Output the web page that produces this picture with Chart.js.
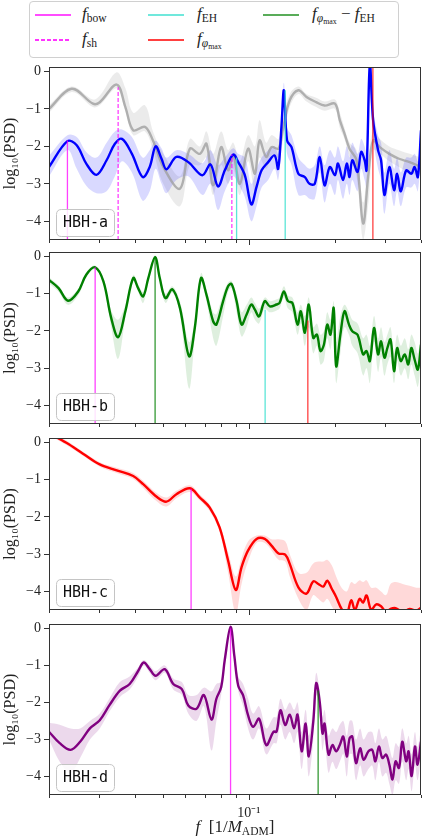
<!DOCTYPE html>
<html><head><meta charset="utf-8">
<script src="https://cdn.jsdelivr.net/npm/chart.js@4/dist/chart.umd.min.js"></script>
<style>
body{margin:0;background:#fff;}
#wrap{position:relative;width:422px;height:840px;overflow:hidden;background:#fff;font-family:"Liberation Serif",serif;color:#222;}
canvas{position:absolute;left:0;}
.leg{position:absolute;left:29px;top:1px;width:368px;height:55px;border:1px solid #d0d0d0;border-radius:4px;}
.ll{position:absolute;height:2px;width:36px;}
.lt{position:absolute;font-size:17px;line-height:20px;white-space:nowrap;}
.lt sub,.xt sub{font-size:0.68em;vertical-align:-0.3em;line-height:0;}
.xt{position:absolute;left:49px;width:372px;top:817px;text-align:center;font-size:17px;line-height:20px;white-space:nowrap;}
</style></head>
<body><div id="wrap">
<div class="leg"></div>
<div class="ll" style="left:35px;top:14px;background:rgba(255,0,255,0.7)"></div>
<div class="lt" style="left:82px;top:4px"><i>f</i><sub>bow</sub></div>
<div class="ll" style="left:35px;top:39px;background:repeating-linear-gradient(to right, rgba(255,0,255,0.8) 0px, rgba(255,0,255,0.8) 4px, rgba(255,255,255,0) 4px, rgba(255,255,255,0) 6px)"></div>
<div class="lt" style="left:82px;top:29px"><i>f</i><sub>sh</sub></div>
<div class="ll" style="left:148px;top:14px;background:rgba(64,224,208,0.75)"></div>
<div class="lt" style="left:197px;top:4px"><i>f</i><sub>EH</sub></div>
<div class="ll" style="left:148px;top:39px;background:rgba(255,0,0,0.75)"></div>
<div class="lt" style="left:197px;top:29px"><i>f</i><sub><i>φ</i><sub>max</sub></sub></div>
<div class="ll" style="left:263px;top:14px;background:rgba(0,128,0,0.65)"></div>
<div class="lt" style="left:312px;top:4px"><i>f</i><sub><i>φ</i><sub>max</sub></sub> − <i>f</i><sub>EH</sub></div>
<canvas id="c0" width="422" height="184" style="top:62px"></canvas>
<canvas id="c1" width="422" height="183" style="top:247px"></canvas>
<canvas id="c2" width="422" height="183" style="top:433px"></canvas>
<canvas id="c3" width="422" height="221" style="top:619px"></canvas>
<div class="xt"><i>f</i> &nbsp;[1/<i>M</i><sub>ADM</sub>]</div>
</div>
<script>
// ---------- axes ----------
const Y_MIN = -4.5, Y_MAX = 0.12;
const X_MIN = 0.02, X_MAX = 0.4;
const yTicks = [0, -1, -2, -3, -4];
const xTicks = [0.02,0.03,0.04,0.05,0.06,0.07,0.08,0.09,0.1,0.2,0.3,0.4];
const xMajorTick = 0.1;
const xMajorLabel = '10⁻¹';
const panelLabels = ['HBH-a','HBH-b','HBH-c','HBH-d'];

// ---------- HBH-a : blue ----------
const fA = [0.020,0.0232,0.025,0.027,0.0293,0.0318,0.034,0.036,0.039,0.0425,0.045,0.0472,0.0495,0.0515,0.0558,0.0614,0.0688,0.0734,0.078,0.0824,0.0882,0.0918,0.0968,0.102,0.1064,0.1108,0.1168,0.123,0.1266,0.130,0.1326,0.136,0.141,0.149,0.157,0.163,0.17,0.177,0.184,0.192,0.2,0.205,0.2135,0.22,0.225,0.23,0.24,0.247,0.254,0.258,0.265,0.272,0.283,0.29,0.298,0.31,0.322,0.33,0.34,0.355,0.37,0.38,0.39,0.4];
const blueA = [-2.55,-1.86,-1.97,-2.46,-2.76,-2.37,-1.93,-1.8,-2.2,-2.82,-2.55,-2.0,-2.33,-2.61,-2.28,-2.42,-2.77,-2.48,-3.07,-2.64,-2.22,-2.42,-2.77,-3.55,-3.08,-2.64,-2.42,-2.24,-2.6,-1.48,-0.5,-1.84,-2.02,-2.73,-2.82,-3.0,-3.0,-2.28,-3.04,-2.55,-2.77,-2.46,-2.9,-2.46,-2.82,-2.37,-2.68,-2.15,-2.37,-2.64,0.2,-1.3,-2.1,-2.37,-3.3,-2.55,-3.17,-2.73,-3.2,-2.64,-2.73,-2.55,-2.82,-1.57];
const blueHiA = [-2.25,-1.7,-1.75,-2.15,-2.3,-1.9,-1.6,-1.55,-1.75,-2.3,-2.1,-1.85,-2.05,-2.3,-2.1,-2.2,-2.45,-2.1,-2.5,-2.3,-2.05,-2.2,-2.3,-3.0,-2.6,-2.3,-2.1,-2.0,-2.2,-1.3,-0.3,-1.5,-1.7,-2.3,-2.5,-2.6,-2.5,-2.0,-2.5,-2.1,-2.3,-2.0,-2.4,-2.0,-2.3,-1.9,-2.2,-1.8,-2.0,-2.2,0.3,-1.0,-1.7,-1.9,-2.7,-2.1,-2.6,-2.3,-2.7,-2.3,-2.3,-2.2,-2.4,-1.4];
const blueLoA = [-2.8,-2.1,-2.6,-3.05,-3.25,-3.2,-2.8,-2.4,-2.7,-3.45,-3.2,-2.6,-3.0,-3.25,-2.9,-2.8,-3.3,-3.0,-3.7,-3.2,-2.8,-3.0,-3.35,-4.0,-3.6,-3.1,-2.9,-2.6,-2.9,-1.9,-0.9,-2.2,-2.5,-3.3,-3.3,-3.4,-3.4,-2.7,-3.5,-3.0,-3.3,-2.9,-3.4,-3.0,-3.3,-2.9,-3.2,-2.6,-2.9,-3.1,-0.5,-1.8,-2.6,-2.9,-3.8,-3.0,-3.6,-3.2,-3.6,-3.1,-3.1,-3.0,-3.2,-2.0];

// ---------- HBH-a : gray ----------
const fG = [0.020,0.024,0.0285,0.0301,0.0345,0.037,0.0394,0.0433,0.0462,0.0502,0.0574,0.0622,0.0674,0.0711,0.075,0.080,0.0846,0.0882,0.093,0.0994,0.105,0.109,0.115,0.12,0.127,0.132,0.139,0.149,0.159,0.172,0.184,0.2,0.208,0.216,0.225,0.238,0.251,0.262,0.272,0.287,0.31,0.335,0.365,0.4];
const grayA = [-1.0,-0.46,-0.86,-0.82,-0.35,-0.95,-1.57,-1.48,-1.84,-2.55,-3.13,-2.06,-2.2,-1.93,-3.04,-2.02,-2.64,-2.24,-3.0,-2.06,-2.73,-1.84,-2.28,-2.02,-2.06,-1.48,-0.77,-0.5,-0.68,-0.82,-0.91,-0.86,-1.3,-1.66,-2.06,-2.37,-4.06,-2.73,-1.84,-2.02,-2.2,-2.33,-2.42,-2.55];
const grayHiA = [-0.9,-0.4,-0.75,-0.65,-0.02,-0.45,-1.1,-0.9,-1.6,-2.2,-2.8,-1.8,-2.0,-1.6,-2.2,-1.6,-2.1,-1.9,-2.4,-1.7,-2.0,-1.3,-1.9,-1.7,-1.8,-1.2,-0.6,-0.4,-0.6,-0.7,-0.8,-0.75,-1.1,-1.5,-1.9,-2.1,-3.5,-2.3,-1.6,-1.8,-2.0,-2.1,-2.2,-2.3];
const grayLoA = [-1.1,-0.55,-0.95,-0.9,-0.45,-1.05,-1.7,-1.6,-2.1,-3.0,-3.6,-2.5,-2.5,-2.3,-3.3,-2.5,-3.0,-2.6,-3.3,-2.4,-3.2,-2.3,-2.6,-2.3,-2.3,-1.8,-0.95,-0.6,-0.8,-0.95,-1.05,-1.0,-1.5,-1.8,-2.3,-2.8,-4.5,-3.5,-2.1,-2.2,-2.4,-2.55,-2.7,-2.8];

// ---------- HBH-b : green ----------
const fB = [0.020,0.0216,0.0233,0.0253,0.027,0.029,0.031,0.033,0.0349,0.037,0.0394,0.041,0.0427,0.0445,0.047,0.0488,0.0511,0.054,0.0574,0.0618,0.0647,0.068,0.0711,0.075,0.077,0.0813,0.0846,0.087,0.0906,0.0943,0.0982,0.102,0.105,0.1086,0.1137,0.1184,0.125,0.128,0.1326,0.137,0.142,0.148,0.152,0.157,0.162,0.168,0.173,0.178,0.183,0.188,0.193,0.198,0.202,0.209,0.216,0.224,0.23,0.24,0.251,0.258,0.265,0.274,0.283,0.29,0.298,0.305,0.313,0.322,0.33,0.34,0.351,0.361,0.37,0.38,0.39,0.4];
const greenB = [-0.63,-0.85,-1.19,-0.94,-0.49,-0.29,-0.67,-1.65,-2.17,-1.47,-0.58,-0.85,-1.07,-0.58,-0.02,-0.58,-1.12,-0.88,-1.38,-2.68,-1.92,-0.58,-1.03,-1.74,-1.83,-1.2,-0.8,-0.74,-1.2,-1.83,-1.56,-1.29,-1.43,-1.61,-1.2,-1.34,-1.29,-1.25,-0.94,-1.2,-1.25,-1.83,-1.47,-2.05,-1.29,-2.19,-2.1,-2.54,-2.37,-1.83,-2.1,-1.38,-2.95,-2.1,-1.47,-1.83,-2.01,-2.1,-2.63,-2.54,-2.81,-1.92,-2.63,-2.28,-2.72,-2.46,-2.23,-3.08,-2.46,-2.81,-2.63,-2.9,-2.46,-2.77,-3.04,-2.37];
const greenHiB = [-0.55,-0.78,-1.1,-0.87,-0.43,-0.24,-0.6,-1.45,-1.7,-1.3,-0.5,-0.75,-0.95,-0.5,0.03,-0.5,-1.0,-0.8,-1.2,-2.3,-1.7,-0.45,-0.9,-1.5,-1.55,-1.0,-0.7,-0.65,-1.0,-1.5,-1.3,-1.1,-1.25,-1.4,-1.1,-1.2,-1.15,-1.1,-0.8,-1.05,-1.1,-1.5,-1.3,-1.6,-1.1,-1.9,-1.8,-2.1,-2.0,-1.5,-1.7,-1.2,-2.3,-1.6,-1.3,-1.5,-1.7,-1.8,-2.2,-2.1,-2.4,-1.6,-2.2,-1.9,-2.3,-2.1,-1.9,-2.6,-2.1,-2.4,-2.2,-2.5,-2.1,-2.3,-2.6,-2.0];
const greenLoB = [-0.72,-0.95,-1.3,-1.05,-0.56,-0.34,-0.75,-1.9,-2.75,-1.65,-0.66,-0.95,-1.25,-0.66,-0.08,-0.66,-1.25,-0.97,-1.55,-3.55,-2.2,-0.7,-1.2,-2.2,-2.4,-1.6,-0.95,-0.85,-1.5,-2.15,-1.9,-1.5,-1.7,-1.8,-1.4,-1.5,-1.45,-1.4,-1.1,-1.4,-1.5,-2.1,-1.8,-2.4,-1.9,-2.6,-2.4,-2.9,-2.8,-2.2,-2.5,-1.8,-3.4,-2.6,-1.9,-2.1,-2.4,-2.6,-3.2,-3.0,-3.4,-2.3,-3.1,-2.7,-3.2,-2.9,-2.7,-3.4,-2.8,-3.2,-3.0,-3.3,-2.9,-3.2,-3.5,-2.8];

// ---------- HBH-c : red ----------
const fC = [0.020,0.023,0.0263,0.0301,0.0345,0.0394,0.0427,0.0476,0.0515,0.0558,0.0622,0.0674,0.073,0.079,0.0846,0.09,0.0943,0.0994,0.1064,0.1137,0.12,0.127,0.134,0.139,0.149,0.159,0.168,0.175,0.182,0.188,0.195,0.202,0.211,0.22,0.228,0.235,0.244,0.251,0.258,0.268,0.279,0.29,0.302,0.313,0.326,0.345,0.365,0.385,0.4];
const redC = [0.25,-0.01,-0.3,-0.59,-0.75,-0.9,-1.12,-1.46,-1.59,-1.39,-1.23,-1.48,-1.75,-2.28,-3.17,-3.96,-3.35,-2.9,-2.59,-2.59,-2.77,-2.98,-3.01,-3.26,-3.89,-4.06,-3.73,-3.8,-3.87,-3.71,-3.93,-4.15,-4.47,-4.6,-4.24,-4.5,-4.2,-4.3,-4.11,-4.5,-4.35,-4.4,-4.55,-4.47,-4.45,-4.55,-4.47,-4.52,-4.44];
const redHiC = [0.3,0.05,-0.25,-0.53,-0.68,-0.82,-1.03,-1.36,-1.48,-1.3,-1.15,-1.4,-1.67,-2.18,-2.95,-3.6,-3.1,-2.65,-2.5,-2.5,-2.6,-2.6,-2.65,-3.0,-3.5,-3.5,-3.25,-3.2,-3.2,-3.15,-3.3,-3.6,-3.9,-4.0,-3.75,-3.8,-3.7,-3.75,-3.7,-3.9,-3.9,-4.0,-4.1,-3.8,-3.75,-3.8,-3.85,-3.9,-3.9];
const redLoC = [0.2,-0.07,-0.36,-0.65,-0.82,-0.98,-1.22,-1.58,-1.72,-1.5,-1.33,-1.56,-1.85,-2.4,-3.5,-4.6,-3.8,-3.2,-2.7,-2.7,-2.9,-3.15,-3.2,-3.6,-4.2,-4.5,-4.1,-4.2,-4.3,-4.2,-4.4,-4.6,-4.8,-4.8,-4.7,-4.8,-4.7,-4.7,-4.6,-4.8,-4.8,-4.8,-4.8,-4.8,-4.8,-4.8,-4.8,-4.8,-4.8];

// ---------- HBH-d : purple ----------
const fD = [0.020,0.0218,0.0238,0.0257,0.0278,0.0301,0.0325,0.0354,0.0383,0.041,0.0429,0.045,0.0472,0.0508,0.0544,0.0583,0.0614,0.0656,0.0696,0.074,0.077,0.080,0.0824,0.0863,0.089,0.0918,0.0955,0.0994,0.1035,0.1086,0.115,0.122,0.125,0.129,0.134,0.139,0.144,0.148,0.153,0.158,0.162,0.168,0.172,0.177,0.181,0.184,0.19,0.196,0.202,0.208,0.214,0.22,0.225,0.23,0.237,0.245,0.252,0.262,0.27,0.277,0.285,0.293,0.302,0.31,0.318,0.326,0.335,0.344,0.355,0.362,0.371,0.381,0.389,0.4];
const purpleD = [-2.79,-3.1,-3.28,-3.06,-2.7,-2.48,-2.08,-1.68,-1.5,-1.15,-0.92,-1.1,-1.28,-1.1,-1.5,-1.64,-2.08,-2.17,-1.8,-2.46,-1.9,-1.59,-0.84,0.04,-0.75,-1.55,-1.81,-2.35,-2.66,-2.44,-3.15,-2.79,-2.79,-2.21,-2.61,-2.33,-2.7,-2.33,-3.32,-2.57,-3.46,-2.52,-1.48,-1.99,-2.84,-2.57,-3.41,-3.15,-3.32,-3.15,-2.92,-3.46,-2.97,-2.92,-3.64,-3.24,-3.55,-3.32,-3.28,-3.59,-3.19,-3.5,-3.41,-3.68,-4.08,-3.59,-3.77,-3.06,-3.59,-3.32,-3.99,-3.19,-3.68,-3.06];
const purpleHiD = [-2.55,-2.6,-2.7,-2.7,-2.5,-2.3,-1.9,-1.45,-1.3,-1.05,-0.85,-1.0,-1.15,-1.0,-1.35,-1.45,-1.8,-1.8,-1.6,-1.7,-1.5,-1.45,-0.7,0.1,-0.6,-1.3,-1.5,-1.9,-2.3,-2.1,-2.7,-2.4,-2.4,-1.9,-2.2,-2.0,-2.2,-2.0,-2.8,-2.2,-2.9,-2.1,-1.2,-1.7,-2.4,-2.2,-2.9,-2.7,-2.8,-2.6,-2.5,-2.9,-2.5,-2.5,-3.0,-2.7,-3.0,-2.8,-2.8,-3.1,-2.7,-3.0,-2.9,-3.2,-3.5,-3.1,-3.2,-2.7,-3.1,-2.9,-3.4,-2.8,-3.2,-2.7];
const purpleLoD = [-3.0,-3.6,-3.9,-3.5,-3.0,-2.7,-2.25,-1.85,-1.65,-1.3,-1.0,-1.2,-1.4,-1.2,-1.65,-1.8,-2.3,-2.5,-2.1,-3.3,-2.5,-1.8,-1.0,-0.02,-0.9,-1.7,-2.1,-2.7,-3.0,-2.7,-3.4,-3.1,-3.1,-2.6,-3.0,-2.8,-3.1,-2.8,-3.8,-3.0,-4.0,-3.0,-1.8,-2.4,-3.3,-3.0,-3.9,-3.6,-3.8,-3.6,-3.4,-4.0,-3.4,-3.4,-4.1,-3.7,-4.0,-3.8,-3.7,-4.1,-3.6,-4.0,-3.9,-4.2,-4.5,-4.1,-4.2,-3.6,-4.1,-3.8,-4.4,-3.7,-4.1,-3.5];

// ---------- characteristic frequencies (vertical markers) ----------
const markFA = [0.0232,0.0349,0.0872,0.0906,0.134,0.2715];
const markTopA = [-1.84,-0.42,-2.22,-2.3,-0.5,0.12];
const markKindA = ['bow','sh','sh','eh','eh','phi'];
const markFB = [0.029,0.047,0.114,0.1608];
const markTopB = [-0.29,0.0,-1.43,-1.72];
const markKindB = ['bow','diff','eh','phi'];
const markFC = [0.0628];
const markTopC = [-1.24];
const markKindC = ['bow'];
const markFD = [0.0863,0.1747];
const markTopD = [0.0,-1.68];
const markKindD = ['bow','diff'];

// ---------- styling ----------
const FONT = '"Liberation Serif", serif';
const MARK_STYLE = {
  bow:{c:'rgba(255,0,255,0.75)', d:[]},
  sh:{c:'rgba(255,0,255,0.75)', d:[4,2]},
  eh:{c:'rgba(64,224,208,0.85)', d:[]},
  phi:{c:'rgba(255,0,0,0.75)', d:[]},
  diff:{c:'rgba(0,128,0,0.8)', d:[]}
};

const panels = [
  {canvas:'c0', xh:6, xLabels:false, label:panelLabels[0],
   series:[{f:fA,y:blueA,hi:blueHiA,lo:blueLoA,color:'#0000ff',band:'rgba(0,0,255,0.15)'},
           {f:fG,y:grayA,hi:grayHiA,lo:grayLoA,color:'rgba(160,160,160,0.8)',band:'rgba(128,128,128,0.16)'}],
   marks:{f:markFA,top:markTopA,kind:markKindA}},
  {canvas:'c1', xh:6, xLabels:false, label:panelLabels[1],
   series:[{f:fB,y:greenB,hi:greenHiB,lo:greenLoB,color:'#008000',band:'rgba(0,128,0,0.13)'}],
   marks:{f:markFB,top:markTopB,kind:markKindB}},
  {canvas:'c2', xh:6, xLabels:false, label:panelLabels[2],
   series:[{f:fC,y:redC,hi:redHiC,lo:redLoC,color:'#ff0000',band:'rgba(255,0,0,0.15)'}],
   marks:{f:markFC,top:markTopC,kind:markKindC}},
  {canvas:'c3', xh:45, xLabels:true, label:panelLabels[3],
   series:[{f:fD,y:purpleD,hi:purpleHiD,lo:purpleLoD,color:'#800080',band:'rgba(128,0,128,0.15)'}],
   marks:{f:markFD,top:markTopD,kind:markKindD}}
];

function pts(fs, ys){ const n=Math.min(fs.length, ys.length); const o=[]; for(let i=0;i<n;i++) o.push({x:fs[i], y:ys[i]}); return o; }

function rr(ctx,x,y,w,h,r){ ctx.beginPath(); ctx.moveTo(x+r,y); ctx.lineTo(x+w-r,y); ctx.quadraticCurveTo(x+w,y,x+w,y+r); ctx.lineTo(x+w,y+h-r); ctx.quadraticCurveTo(x+w,y+h,x+w-r,y+h); ctx.lineTo(x+r,y+h); ctx.quadraticCurveTo(x,y+h,x,y+h-r); ctx.lineTo(x,y+r); ctx.quadraticCurveTo(x,y,x+r,y); ctx.closePath(); }

const deco = {
  id:'deco',
  afterDraw(chart){
    const ctx = chart.ctx, a = chart.chartArea, xs = chart.scales.x;
    ctx.save();
    ctx.strokeStyle = '#333'; ctx.lineWidth = 1;
    ctx.strokeRect(a.left+0.5, a.top+0.5, a.right-a.left-1, a.bottom-a.top-1);
    xTicks.forEach(v => {
      const x = Math.round(xs.getPixelForValue(v)) + 0.5;
      const len = (v === xMajorTick) ? 5 : 3;
      ctx.beginPath(); ctx.moveTo(x, a.bottom); ctx.lineTo(x, a.bottom+len); ctx.stroke();
    });
    const lab = chart.options.plugins.deco.label;
    const bx = a.left+7, by = a.bottom-31, bw = 58, bh = 27;
    rr(ctx, bx+0.5, by+0.5, bw, bh, 5);
    ctx.fillStyle = 'rgba(255,255,255,0.85)'; ctx.fill();
    ctx.strokeStyle = '#c4c4c4'; ctx.stroke();
    ctx.fillStyle = '#111'; ctx.font = '15px "DejaVu Sans Mono", monospace';
    ctx.textAlign = 'center'; ctx.textBaseline = 'middle';
    ctx.fillText(lab, bx+bw/2+0.5, by+bh/2+1);
    ctx.restore();
  }
};

panels.forEach(p => {
  const ds = [];
  p.marks.f.forEach((f,i) => {
    const st = MARK_STYLE[p.marks.kind[i]];
    ds.push({data:[{x:f,y:Y_MIN},{x:f,y:p.marks.top[i]}], borderColor:st.c, borderWidth:1.3, borderDash:st.d, pointRadius:0, fill:false, tension:0, clip:0});
  });
  p.series.forEach(L => ds.push({data:pts(L.f,L.y), borderColor:L.color, borderWidth:2.4, pointRadius:0, fill:false, tension:0.35, clip:0}));
  p.series.forEach(L => {
    ds.push({data:pts(L.f,L.hi), borderWidth:0, borderColor:'rgba(0,0,0,0)', backgroundColor:L.band, pointRadius:0, fill:'+1', tension:0.35, clip:0});
    ds.push({data:pts(L.f,L.lo), borderWidth:0, borderColor:'rgba(0,0,0,0)', pointRadius:0, fill:false, tension:0.35, clip:0});
  });
  new Chart(document.getElementById(p.canvas), {
    type:'line',
    data:{datasets:ds},
    plugins:[deco],
    options:{
      responsive:false, animation:false, devicePixelRatio:1,
      layout:{padding:{top:5,right:1,left:0,bottom:0}},
      plugins:{legend:{display:false}, tooltip:{enabled:false}, deco:{label:p.label}},
      scales:{
        x:{type:'logarithmic', min:X_MIN, max:X_MAX,
           afterBuildTicks:s => { s.ticks = xTicks.map(v => ({value:v, major:false})); },
           afterFit:s => { s.height = p.xh; s.paddingLeft = 0; s.paddingRight = 0; },
           ticks:{autoSkip:false, maxRotation:0, minRotation:0, padding:10, color:'#222',
                  font:{family:FONT, size:14},
                  callback:(v) => (p.xLabels && Math.abs(v - xMajorTick) < 1e-9) ? xMajorLabel : ''},
           grid:{display:false, drawTicks:false}, border:{display:false}},
        y:{type:'linear', min:Y_MIN, max:Y_MAX,
           afterBuildTicks:s => { s.ticks = yTicks.map(v => ({value:v})); },
           afterFit:s => { s.width = 49; s.paddingTop = 0; s.paddingBottom = 0; },
           ticks:{padding:3, color:'#222', font:{family:FONT, size:14},
                  callback:(v) => v === 0 ? '0' : '−' + Math.abs(v)},
           grid:{drawOnChartArea:false, drawTicks:true, tickLength:5, tickColor:'#333', color:'#333'},
           border:{display:false},
           title:{display:true, text:'log₁₀(PSD)', color:'#222', font:{family:FONT, size:16}, padding:{top:1,bottom:0}}}
      }
    }
  });
});
</script>
</body></html>
